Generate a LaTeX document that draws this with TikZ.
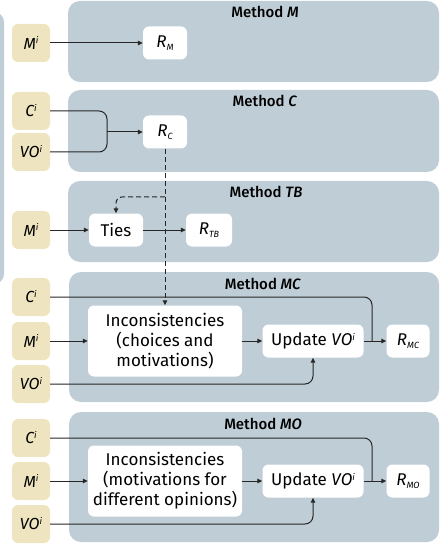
\documentclass[tikz,border=0pt]{standalone}
\usepackage{fontspec}
\setmainfont{Fira Sans}
\newfontfamily\titlefont{Fira Sans Medium}
\usepackage{xcolor}
\usetikzlibrary{arrows.meta,positioning}

\definecolor{panelgray}{HTML}{BFCDD6}
\definecolor{inyellow}{HTML}{EEE5C0}
\definecolor{linegray}{HTML}{262626}

\newcommand{\res}[1]{\textit{R}\raisebox{-0.35ex}{\fontsize{9}{9}\selectfont\itshape #1}}
\newcommand{\isup}[1]{\raisebox{0.6ex}{\fontsize{9}{9}\selectfont\itshape #1}}

\begin{document}
\begin{tikzpicture}[%
  x=1pt, y=-1pt,
  panel/.style={fill=panelgray, rounded corners=12pt},
  inbox/.style={fill=inyellow, rounded corners=6pt, minimum width=38pt,
    minimum height=38pt, inner sep=0pt, font=\fontsize{16}{18}\selectfont\itshape},
  wbox/.style={fill=white, rounded corners=6pt, minimum height=33pt,
    inner sep=0pt, align=center, font=\fontsize{17}{20}\selectfont},
  title/.style={font=\fontsize{15}{17}\selectfont\titlefont},
  arr/.style={draw=linegray, line width=1pt, -{Triangle[length=5pt,width=4.5pt]}},
  ln/.style={draw=linegray, line width=1pt, rounded corners=8pt}]
  \useasboundingbox (0,0) rectangle (440,545);
  \clip (0,0) rectangle (440,545);

  \fill[panelgray, rounded corners=10pt] (-50,12) rectangle (4,284);
  \fill[panel] (68,1) rectangle (439,82);
  \fill[panel] (68,90) rectangle (439,172);
  \fill[panel] (68,181) rectangle (439,262);
  \fill[panel] (69,272) rectangle (439,402);
  \fill[panel] (69,412) rectangle (439,542);

  % method M
  \node[title] (tM) at (265,12) {Method \textit{M}};
  \node[inbox] (mM) at (31,43) {M\isup{i}};
  \node[wbox, minimum width=44pt] (rM) at (165,43) {\res{M}};
  \draw[arr] (mM) -- (rM);

  % method C
  \node[title] (tC) at (265,101) {Method \textit{C}};
  \node[inbox] (cC) at (31,111) {C\isup{i}};
  \node[inbox] (cV) at (31,152) {VO\isup{i}};
  \node[wbox, minimum width=44pt] (rC) at (165,132) {\res{C}};
  \coordinate (cJ) at (107,132);
  \draw[ln] (cC.east) -| (cJ);
  \draw[ln] (cV.east) -| (cJ);
  \draw[arr] (cJ) -- (rC);

  % method TB
  \node[title] (tTB) at (266,192) {Method \textit{TB}};
  \node[inbox] (tbM) at (31,230) {M\isup{i}};
  \node[wbox, minimum width=54pt] (ties) at (116,230) {Ties};
  \node[wbox, minimum width=46pt] (rTB) at (209,230) {\res{TB}};
  \coordinate (tbD) at (165,197);
  \draw[arr] (tbM) -- (ties);
  \draw[arr] (ties) -- (rTB);

  % method MC
  \node[title] (tMC) at (263,284) {Method \textit{MC}};
  \node[inbox] (mcC) at (31,297) {C\isup{i}};
  \node[inbox] (mcM) at (31,341) {M\isup{i}};
  \node[inbox] (mcV) at (31,384) {VO\isup{i}};
  \node[wbox, minimum width=154pt, minimum height=71pt] (mcI) at (165,341)
    {Inconsistencies\\(choices and\\motivations)};
  \node[wbox, minimum width=101pt] (mcU) at (313,341) {Update \textit{VO}\isup{i}};
  \node[wbox, minimum width=43pt] (mcR) at (408,341) {\res{MC}};
  \coordinate (mcJ) at (372,341);
  \draw[arr] (mcM) -- (mcI);
  \draw[arr] (mcI) -- (mcU);
  \draw[arr] (mcU) -- (mcR);
  \draw[ln] (mcC.east) -| (mcJ);
  \draw[arr, rounded corners=8pt] (mcV.east) -| (mcU.south);

  % dashed links from R_C
  \draw[arr, dash pattern=on 5pt off 3pt] (rC.south) -- (mcI.north);
  \draw[arr, dash pattern=on 5pt off 3pt, rounded corners=6pt] (tbD) -| (ties.north);

  % method MO
  \node[title] (tMO) at (263,424) {Method \textit{MO}};
  \node[inbox] (moC) at (31,438) {C\isup{i}};
  \node[inbox] (moM) at (31,481) {M\isup{i}};
  \node[inbox] (moV) at (31,524) {VO\isup{i}};
  \node[wbox, minimum width=154pt, minimum height=71pt] (moI) at (165,481)
    {Inconsistencies\\(motivations for\\different opinions)};
  \node[wbox, minimum width=101pt] (moU) at (313,481) {Update \textit{VO}\isup{i}};
  \node[wbox, minimum width=43pt] (moR) at (408,481) {\res{MO}};
  \coordinate (moJ) at (372,481);
  \draw[arr] (moM) -- (moI);
  \draw[arr] (moI) -- (moU);
  \draw[arr] (moU) -- (moR);
  \draw[ln] (moC.east) -| (moJ);
  \draw[arr, rounded corners=8pt] (moV.east) -| (moU.south);
\end{tikzpicture}
\end{document}
